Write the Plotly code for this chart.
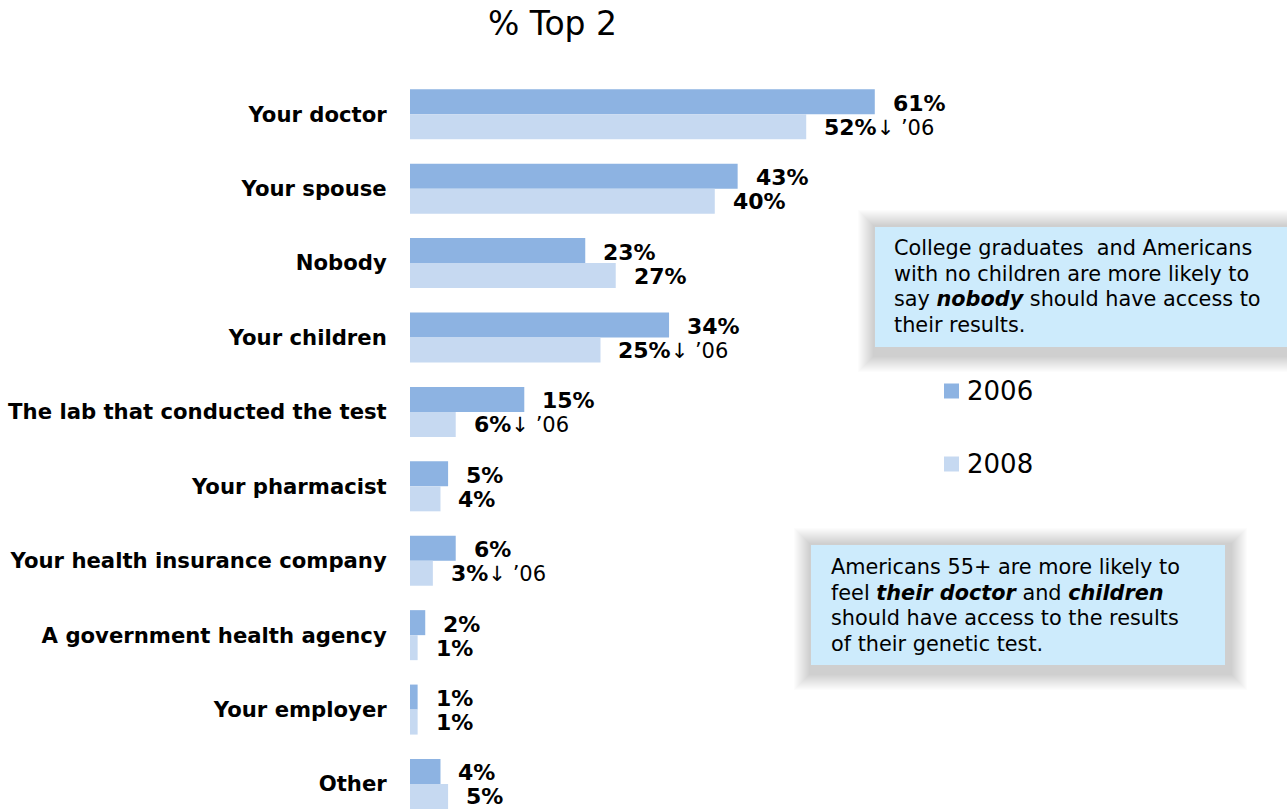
import plotly.graph_objects as go

categories = ["Your doctor", "Your spouse", "Nobody", "Your children",
              "The lab that conducted the test", "Your pharmacist",
              "Your health insurance company", "A government health agency",
              "Your employer", "Other"]
values_2006 = [61, 43, 23, 34, 15, 5, 6, 2, 1, 4]
values_2008 = [52, 40, 27, 25, 6, 4, 3, 1, 1, 5]
down_vs_06 = [True, False, False, True, True, False, True, False, False, False]
series_names = ["2006", "2008"]
title_text = "% Top 2"
note_1_lines = ["College graduates  and Americans",
                "with no children are more likely to",
                "say <b><i>nobody</i></b> should have access to",
                "their results."]
note_2_lines = ["Americans 55+ are more likely to",
                "feel <b><i>their doctor</i></b> and <b><i>children</i></b>",
                "should have access to the results",
                "of their genetic test."]

C2006 = "#8DB3E2"
C2008 = "#C6D9F1"
BOX = "#CDEBFC"
FONT = "DejaVu Sans"

W, H = 1287, 809
L, T = 410, 77


def px(X):
    return (X - L) / (W - L)


def py(Y):
    return (H - Y) / (H - T)


fig = go.Figure()
fig.add_trace(go.Bar(y=categories, x=values_2006, orientation="h", name=series_names[0],
                     marker=dict(color=C2006, line=dict(width=0)), showlegend=False))
fig.add_trace(go.Bar(y=categories, x=values_2008, orientation="h", name=series_names[1],
                     marker=dict(color=C2008, line=dict(width=0)), showlegend=False))

annotations = []
for cat, v6, v8, dn in zip(categories, values_2006, values_2008, down_vs_06):
    annotations.append(dict(x=v6, y=cat, xref="x", yref="y", text=f"<b>{v6}%</b>",
                            showarrow=False, xanchor="left", yanchor="middle",
                            xshift=16, yshift=11,
                            font=dict(family=FONT, size=22, color="black")))
    t8 = f"<b>{v8}%</b>" + ("<span style='font-size:21px'>↓ ’06</span>" if dn else "")
    annotations.append(dict(x=v8, y=cat, xref="x", yref="y", text=t8,
                            showarrow=False, xanchor="left", yanchor="middle",
                            xshift=16, yshift=-13,
                            font=dict(family=FONT, size=22, color="black")))

# title
annotations.append(dict(x=px(552), y=py(23), xref="paper", yref="paper", text=title_text,
                        showarrow=False, xanchor="center", yanchor="middle",
                        font=dict(family=FONT, size=33, color="black")))

shapes = []
# custom legend
for name, col, yc in [(series_names[0], C2006, 391), (series_names[1], C2008, 464)]:
    shapes.append(dict(type="rect", xref="paper", yref="paper",
                       x0=px(944), x1=px(959), y0=py(yc + 7.5), y1=py(yc - 7.5),
                       fillcolor=col, line=dict(width=0), layer="above"))
    annotations.append(dict(x=px(965), y=py(yc), xref="paper", yref="paper", text=name,
                            showarrow=False, xanchor="left", yanchor="middle",
                            font=dict(family=FONT, size=26, color="black")))


def note_box(x0, y0, x1, y1, lines, tx, ty0, dy):
    # soft shadow (layered, offset down-right)
    for k in range(16, 0, -1):
        shapes.append(dict(type="rect", xref="paper", yref="paper",
                           x0=px(x0 - 1 - k), x1=px(x1 + 6 + k),
                           y0=py(y1 + 9 + k), y1=py(y0 - 1 - k),
                           fillcolor="rgba(80,80,80,0.017)", line=dict(width=0),
                           layer="above"))
    shapes.append(dict(type="rect", xref="paper", yref="paper",
                       x0=px(x0), x1=px(x1), y0=py(y1), y1=py(y0),
                       fillcolor=BOX, line=dict(width=0), layer="above"))
    for i, ln in enumerate(lines):
        annotations.append(dict(x=px(tx), y=py(ty0 + i * dy), xref="paper", yref="paper",
                                text=ln, showarrow=False, xanchor="left", yanchor="middle",
                                align="left",
                                font=dict(family=FONT, size=20.8, color="black")))


note_box(875, 227, 1300, 347, note_1_lines, 892, 248, 25.5)
note_box(811, 545, 1225, 665, note_2_lines, 829, 567, 25.7)

fig.update_layout(
    width=W, height=H,
    margin=dict(l=L, r=0, t=T, b=0, pad=0),
    paper_bgcolor="white", plot_bgcolor="white",
    barmode="group", bargap=0.328, bargroupgap=0,
    xaxis=dict(range=[0, 115.1], visible=False, showgrid=False, zeroline=False),
    yaxis=dict(type="category", range=[9.336, -0.5], showgrid=False, zeroline=False,
               showline=False, ticks="outside", ticklen=18, tickcolor="rgba(0,0,0,0)",
               tickfont=dict(family=FONT, size=21.2, color="black"),
               tickprefix="<b>", ticksuffix="</b>"),
    annotations=annotations,
    shapes=shapes,
    showlegend=False,
)

fig.write_html("out.html")
